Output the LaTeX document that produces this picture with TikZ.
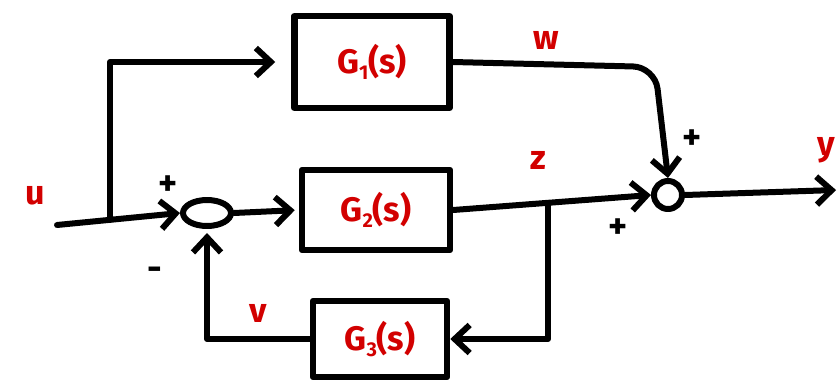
\documentclass[tikz,border=0pt]{standalone}
\usepackage{fontspec}
\setmainfont{Fira Sans}
\usetikzlibrary{arrows.meta,shapes.geometric}
\definecolor{inkred}{RGB}{210,0,0}
\newcommand{\gsub}[1]{G\raisebox{-0.35ex}{\fontsize{20}{20}\selectfont #1}(s)}
\begin{document}
\begin{tikzpicture}[x=1pt,y=-1pt,
  line width=6pt, line cap=round, line join=round,
  blk/.style={draw, rectangle, line width=6.5pt, inner sep=0pt, text=inkred,
    font=\fontsize{34}{36}\selectfont\bfseries},
  sig/.style={text=inkred, font=\fontsize{34}{36}\selectfont\bfseries},
  sgn/.style={text=black, font=\fontsize{36}{38}\selectfont\bfseries},
  arr/.style={-{Straight Barb[length=15pt,width=28pt,line width=6pt]}},
  sumj/.style={draw, ellipse, line width=6pt, inner sep=0pt}]
\useasboundingbox (0,0) rectangle (840,385);
% blocks
\node[blk, minimum width=155pt, minimum height=92pt] (G1) at (372,62) {\gsub{1}};
\node[blk, minimum width=148pt, minimum height=80pt] (G2) at (376,210) {\gsub{2}};
\node[blk, minimum width=134pt, minimum height=76pt] (G3) at (380,339) {\gsub{3}};
% summing junctions
\node[sumj, minimum width=48pt, minimum height=26pt] (J1) at (207,213) {};
\node[sumj, minimum width=28pt, minimum height=28pt] (J2) at (668,195) {};
% coordinates
\coordinate (uin) at (57,225);
\coordinate (b1) at (110,220);
\coordinate (b2) at (548,204);
\coordinate (yout) at (836,190);
% connectors
\draw[arr] (uin) -- (J1.west);
\draw[arr, shorten >=16pt] (b1) |- (G1.west);
\draw[arr, shorten >=4pt] (J1.east) -- (G2.west);
\draw[arr] (G2.east) -- (J2.west);
\draw[arr] (b2) |- (G3.east);
\draw[arr, shorten >=4pt] (G3.west) -| (J1.south);
\draw[arr, rounded corners=22pt] (G1.east) -- (655,67) -- (J2.north);
\draw[arr] (J2.east) -- (yout);
% labels
\node[sig] (lu) at (35,196) {u};
\node[sig] (lw) at (546,40) {w};
\node[sig] (lz) at (538,160) {z};
\node[sig] (lv) at (258,313) {v};
\node[sig] (ly) at (826,150) {y};
\node[sgn] (p1) at (168,186) {+};
\node[sgn] (m1) at (155,274) {-};
\node[sgn] (p2) at (692,140) {+};
\node[sgn] (p3) at (618,229) {+};
\end{tikzpicture}
\end{document}
